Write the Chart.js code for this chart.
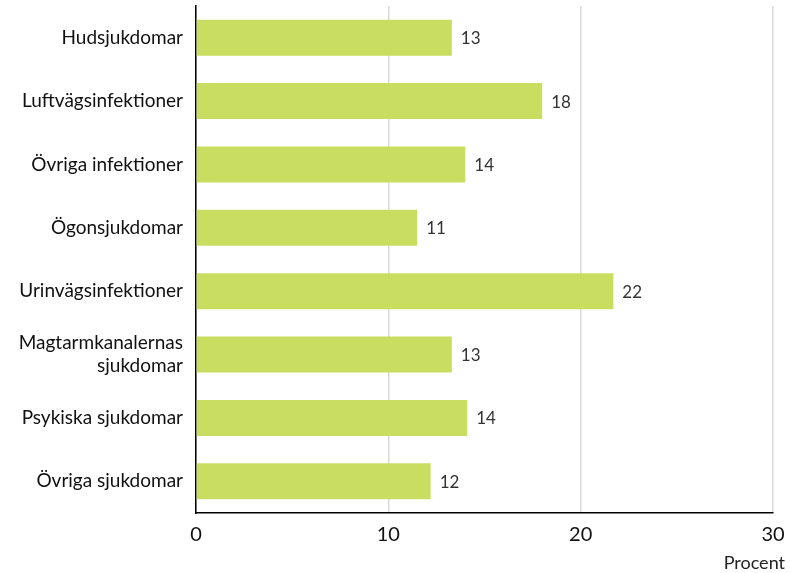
<!DOCTYPE html>
<html><head><meta charset="utf-8">
<script src="https://cdn.jsdelivr.net/npm/chart.js@4"></script>
<style>html,body{margin:0;padding:0;background:#fff}#wrap{width:791px;height:573px}</style>
</head><body><div id="wrap"><canvas id="c"></canvas></div>
<script>
const categories = ["Hudsjukdomar","Luftvägsinfektioner","Övriga infektioner","Ögonsjukdomar","Urinvägsinfektioner",["Magtarmkanalernas","sjukdomar"],"Psykiska sjukdomar","Övriga sjukdomar"];
const values = [13.3,18.0,14.0,11.5,21.7,13.3,14.1,12.2];
const valueLabels = ["13","18","14","11","22","13","14","12"];
const xTicks = [0,10,20,30];
const xTitle = "Procent";
const FONT = "Lato";

const labelPlugin = {
  id:'valueLabels',
  afterDatasetsDraw(chart){
    const ctx = chart.ctx;
    const meta = chart.getDatasetMeta(0);
    ctx.save();
    ctx.font = "17px " + FONT;
    ctx.fillStyle = "#333";
    ctx.textAlign = "left";
    ctx.textBaseline = "middle";
    meta.data.forEach((bar,i)=>{
      ctx.fillText(valueLabels[i], bar.x + 9, bar.y + 1);
    });
    ctx.font = "18px " + FONT;
    ctx.fillStyle = "#222";
    ctx.textAlign = "right";
    ctx.fillText(xTitle, 785, 563);
    ctx.restore();
  }
};

new Chart(document.getElementById('c'),{
  type:'bar',
  data:{labels:categories,datasets:[{data:values,backgroundColor:'#c9de60',barPercentage:0.57,categoryPercentage:1}]},
  options:{
    indexAxis:'y',responsive:true,maintainAspectRatio:false,animation:false,
    layout:{padding:{top:6,right:18,left:0,bottom:0}},
    plugins:{legend:{display:false},tooltip:{enabled:false}},
    scales:{
      x:{min:0,max:30,
        afterBuildTicks:(s)=>{s.ticks = xTicks.map(v=>({value:v}));},
        afterFit:(s)=>{s.height = 60; s.paddingLeft = 0; s.paddingRight = 0;},
        grid:{color:'#d9d9d9',lineWidth:1.5,drawTicks:false},
        border:{color:'#000',width:1.5},
        ticks:{padding:10,color:'#111',font:{family:FONT,size:20}}
      },
      y:{
        afterFit:(s)=>{s.width = 196; s.paddingTop = 0; s.paddingBottom = 0;},
        grid:{display:false,drawTicks:false},
        border:{color:'#000',width:1.5},
        ticks:{padding:13,color:'#111',font:{family:FONT,size:19},autoSkip:false}
      }
    }
  },
  plugins:[labelPlugin]
});
</script></body></html>
